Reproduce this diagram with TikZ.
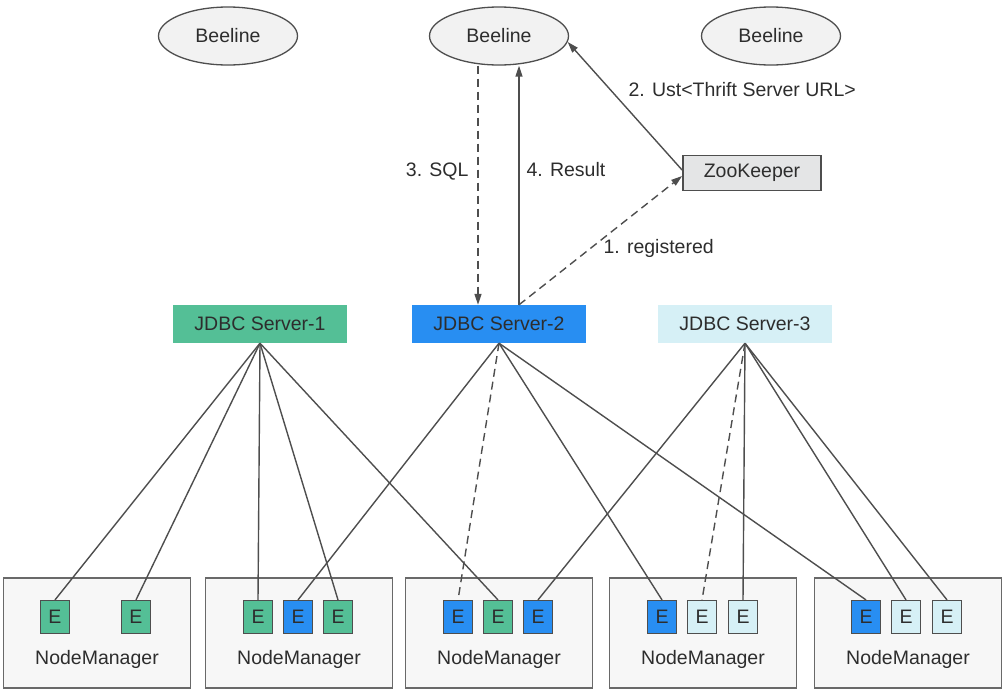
\documentclass[tikz,border=0pt]{standalone}
\usepackage{fontspec}
\setmainfont{Liberation Sans}
\usetikzlibrary{arrows.meta,shapes.geometric}
\definecolor{jdbcgreen}{RGB}{84,191,150}
\definecolor{jdbcblue}{RGB}{40,142,242}
\definecolor{jdbccyan}{RGB}{214,240,246}
\definecolor{zkgray}{RGB}{228,229,230}
\definecolor{nmfill}{RGB}{247,247,247}
\definecolor{linegray}{RGB}{78,78,78}
\definecolor{txtgray}{RGB}{45,45,45}
\definecolor{clientfill}{RGB}{242,242,242}

\tikzset{
  client/.style={ellipse, draw=linegray, fill=clientfill, line width=1.3pt,
    minimum width=139pt, minimum height=58pt, inner sep=0pt},
  server/.style={rectangle, minimum width=174pt, minimum height=38pt, inner sep=0pt},
  zkbox/.style={rectangle, draw=linegray, fill=zkgray, line width=1.8pt,
    minimum width=138pt, minimum height=35pt, inner sep=0pt},
  nmbox/.style={rectangle, draw=linegray!85, fill=nmfill, line width=1.4pt,
    minimum width=187pt, minimum height=110pt},
  ebox/.style={rectangle, draw=linegray, line width=1.2pt,
    minimum width=29pt, minimum height=33pt, inner sep=0pt},
  link/.style={draw=linegray, line width=1.4pt},
  dashlink/.style={dash pattern=on 8pt off 5pt},
  arr/.style={-{Triangle[length=11pt,width=7pt]}},
}

\begin{document}
\begin{tikzpicture}[x=1pt,y=-1pt,
  every node/.style={font=\fontsize{19.5}{23}\selectfont, text=txtgray}]
\useasboundingbox (0,0) rectangle (1006,691);

% Beeline clients
\node[client] (bl1) at (228,36) {Beeline};
\node[client] (bl2) at (499,36) {Beeline};
\node[client] (bl3) at (771,36) {Beeline};

% ZooKeeper
\node[zkbox] (zk) at (752,173) {ZooKeeper};

% JDBC servers
\node[server, fill=jdbcgreen] (srv1) at (260,324) {JDBC Server-1};
\node[server, fill=jdbcblue] (srv2) at (499,324) {JDBC Server-2};
\node[server, fill=jdbccyan] (srv3) at (745,324) {JDBC Server-3};

% request flow
\draw[link, dashlink, arr] ([xshift=-21pt]bl2.south) -- ([xshift=-21pt]srv2.north);
\draw[link, arr] ([xshift=20pt]srv2.north) -- ([xshift=20pt]bl2.south);
\draw[link, dashlink, arr] ([xshift=20pt]srv2.north) -- ([yshift=-3pt]zk.west);
\draw[link, arr] ([yshift=3pt]zk.west) -- (bl2.-5);
\node[anchor=east] (sql) at (472,172) {3. SQL};
\node[anchor=west] (res) at (523,170) {4. Result};
\node[anchor=west] (url) at (625,90) {2. Ust<Thrift Server URL>};
\node[anchor=west] (reg) at (600,248) {1. registered};

% NodeManagers
\foreach \i/\x in {1/97,2/299,3/499,4/703,5/908} {
  \node[nmbox] (nm\i) at (\x,633) {};
  \node (nmtxt\i) at (\x,659) {NodeManager};
}

% executors
\foreach \n/\x/\c in {e11/55/jdbcgreen, e12/136/jdbcgreen,
    e21/258/jdbcgreen, e22/298/jdbcblue, e23/338/jdbcgreen,
    e31/458/jdbcblue, e32/498/jdbcgreen, e33/538/jdbcblue,
    e41/662/jdbcblue, e42/702/jdbccyan, e43/743/jdbccyan,
    e51/866/jdbcblue, e52/906/jdbccyan, e53/947/jdbccyan}
  \node[ebox, fill=\c] (\n) at (\x,617) {E};

% server to executor links
\foreach \e in {e11,e12,e21,e23,e32}
  \draw[link] (srv1.south) -- (\e.north);
\foreach \e in {e22,e41,e51}
  \draw[link] (srv2.south) -- (\e.north);
\draw[link, dashlink] (srv2.south) -- (e31.north);
\foreach \e in {e33,e43,e52,e53}
  \draw[link] (srv3.south) -- (\e.north);
\draw[link, dashlink] (srv3.south) -- (e42.north);
\end{tikzpicture}
\end{document}
